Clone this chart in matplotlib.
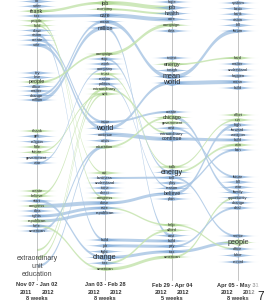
import numpy as np
import matplotlib
matplotlib.use("Agg")
import matplotlib.pyplot as plt

plt.rcParams['font.family'] = ['Liberation Sans', 'DejaVu Sans']

# words per column, grouped; colour code b/g and size code 0/1/2 per word
col1_groups = [["do", "voter", "thank", "tax", "people", "hold", "draw", "vision", "create", "vote"],
               ["try", "lose", "people", "office", "matter", "change", "million"],
               ["thank", "get", "religion", "little", "future", "government", "war"],
               ["create", "believe", "start", "congress", "idea", "rights", "republican", "hate", "american"]]
col1_colors = ["bbgbggbbbb", "bbgbbbb", "gbbggbb", "ggbgbbgbb"]
col1_sizes = ["0010000000", "0010000", "0000000", "000000000"]
col1_span = [(1.5, 45), (73, 100), (131, 163), (191, 231)]

col2_groups = [["job", "economy", "care", "mean", "million"],
               ["campaign", "stop", "work", "company", "trust", "reason", "politics", "extraordinary", "unit"],
               ["issue", "world", "continue", "crisis", "education"],
               ["cut", "business", "understand", "tone", "direct", "congress", "close", "race", "republican"],
               ["build", "job", "fight", "change", "tax", "american"]]
col2_colors = ["ggbbb", "gbbbgbbgg", "bbbbg", "gbbbbgbbb", "bbbbbg"]
col2_sizes = ["10101", "000000000", "02000", "000000000", "000200"]
col2_span = [(3, 28), (54, 94), (122, 147), (173, 213), (240, 269)]

col3_groups = [["hope", "job", "health", "care", "campaign", "idea"],
               ["invest", "energy", "tough", "mean", "world"],
               ["create", "chicago", "government", "cost", "extraordinary", "continue"],
               ["talk", "energy", "tell", "play", "reason", "believe", "plan"],
               ["help", "afford", "cost", "build", "pay", "tax", "american"]]
col3_colors = ["bbbbgb", "bgbbb", "bggbbb", "gbbbbbb", "ggbbbbg"]
col3_sizes = ["011000", "01022", "010001", "0200010", "0000000"]
col3_span = [(2, 31), (58, 83), (112, 139), (167, 199), (225, 257)]

col4_groups = [["system", "basic", "bank", "vision", "kill", "forum"],
               ["hard", "matter", "understand", "happen", "mean", "build"],
               ["effort", "run", "high", "forward", "weapon", "build", "win", "ban"],
               ["future", "bill", "war", "family", "opportunity", "change", "deal"],
               ["senior", "people", "office", "labor", "record"]]
col4_colors = ["bbbbbb", "gbbbbb", "ggbbbbgb", "bbbbbbb", "bgbbb"]
col4_sizes = ["000000", "000000", "00000000", "0000000", "02000"]
col4_span = [(3, 31), (58, 88), (115, 150), (177, 208), (236, 262)]

col1_focus = ["extraordinary", "unit", "education"]

period_labels = ["Nov 07 - Jan 02", "Jan 03 - Feb 28", "Feb 29 - Apr 04", "Apr 05 - May 31"]
period_years = [("2011", "2012"), ("2012", "2012"), ("2012", "2012"), ("2012", "2012")]
period_weeks = ["8 weeks", "8 weeks", "5 weeks", "8 weeks"]

# flows: (source word, target word, weight, colour)
flows_12 = [("vote", "world", 3.5, "b"), ("create", "issue", 2.5, "b"), ("million", "million", 4, "b"),
            ("change", "mean", 2.5, "b"), ("people:2", "campaign", 2, "g"), ("thank", "job", 2.5, "g"),
            ("tax", "care", 3, "b"), ("people", "congress", 2, "g"), ("hold", "cut", 1.5, "g"),
            ("future", "unit", 1.5, "g"), ("war", "company", 1.5, "b"), ("congress", "close", 4, "b"),
            ("rights", "race", 3, "b"), ("republican", "republican", 3, "b"),
            ("believe", "extraordinary", 2, "g"), ("american", "education", 2.5, "b"),
            ("hate", "american", 2, "g"), ("start", "change", 2.5, "b"), ("vision", "build", 2.5, "b")]
flows_focus = [("extraordinary", "extraordinary", 2, "g"), ("unit", "unit", 2, "g"),
               ("education", "education", 2.5, "b")]
flows_23 = [("job", "job", 4, "g"), ("care", "care", 4, "b"), ("economy", "health", 2, "g"),
            ("mean", "mean", 4, "b"), ("million", "cost:2", 3, "b"), ("campaign", "campaign", 3, "g"),
            ("world", "world", 3, "b"), ("continue", "continue", 4, "b"), ("issue", "create", 2, "b"),
            ("education", "chicago", 2, "g"), ("extraordinary", "extraordinary", 2, "g"),
            ("stop", "energy:2", 2, "b"), ("trust", "talk", 1.5, "g"), ("business", "tell", 2, "b"),
            ("build", "build", 3, "b"), ("job:2", "pay", 3, "b"), ("change", "tax", 3, "b"),
            ("american", "american", 3, "g"), ("tax", "afford", 2, "g"), ("close", "believe", 3, "b"),
            ("race", "help", 1.5, "g"), ("politics", "reason", 1.5, "b")]
flows_34 = [("mean", "forum", 4, "b"), ("world", "mean", 4, "b"), ("chicago", "family", 3, "b"),
            ("continue", "build:2", 3, "b"), ("energy:2", "win", 2, "g"), ("believe", "high", 3, "b"),
            ("tax", "people", 3, "b"), ("american", "opportunity", 2, "g"), ("cost", "future", 2, "b"),
            ("talk", "run", 1.5, "g"), ("help", "office", 1.5, "g"), ("reason", "ban", 2, "b"),
            ("tell", "senior", 2, "b"), ("pay", "deal", 2, "b"), ("energy", "hard", 1.5, "g")]

col_x = [37, 105, 172, 238]
glyph_col = {"b": "#7ea9d8", "g": "#a9d58c"}
flow_col = {"b": "#abc7e5", "g": "#c6e4af"}
font_sz = {"0": 2.9, "1": 3.9, "2": 5.2}
glyph_h = {"0": 2.0, "1": 2.6, "2": 3.2}


def layout(groups, colors, sizes, span):
    items = []
    seen = {}
    for g, c, s, (y0, y1) in zip(groups, colors, sizes, span):
        ys = np.linspace(y0, y1, len(g))
        for w, cc, ss, y in zip(g, c, s, ys):
            seen[w] = seen.get(w, 0) + 1
            key = w if seen[w] == 1 else f"{w}:{seen[w]}"
            items.append((key, w, cc, ss, y))
    return items


cols = [layout(col1_groups, col1_colors, col1_sizes, col1_span),
        layout(col2_groups, col2_colors, col2_sizes, col2_span),
        layout(col3_groups, col3_colors, col3_sizes, col3_span),
        layout(col4_groups, col4_colors, col4_sizes, col4_span)]
ypos = [{k: y for k, w, c, s, y in items} for items in cols]
focus_y = dict(zip(col1_focus, np.linspace(258, 274, len(col1_focus))))

fig = plt.figure(figsize=(2.7, 3.03), dpi=100)
ax = fig.add_axes([0, 0, 1, 1])
ax.set_xlim(0, 270)
ax.set_ylim(303, 0)
ax.axis("off")


def band(x1, y1, x2, y2, w, color):
    t = np.linspace(0, 1, 60)
    dx = x2 - x1
    px = (1 - t) ** 3 * x1 + 3 * (1 - t) ** 2 * t * (x1 + dx * 0.5) + 3 * (1 - t) * t ** 2 * (x2 - dx * 0.5) + t ** 3 * x2
    py = (1 - t) ** 3 * y1 + 3 * (1 - t) ** 2 * t * y1 + 3 * (1 - t) * t ** 2 * y2 + t ** 3 * y2
    ax.fill(np.r_[px, px[::-1]], np.r_[py - w / 2, (py + w / 2)[::-1]],
            color=color, alpha=0.85, lw=0, zorder=1)


for i, fl in enumerate([flows_12, flows_23, flows_34]):
    for a, b, w, c in fl:
        band(col_x[i], ypos[i][a], col_x[i + 1], ypos[i + 1][b], w, flow_col[c])
for a, b, w, c in flows_focus:
    band(col_x[0], focus_y[a] - 8, col_x[1], ypos[1][b], w, flow_col[c])

for x in col_x:
    ax.plot([x, x], [0, 280], color="#999999", lw=0.4, zorder=2)

tt = np.linspace(-1, 1, 41)
for x, items in zip(col_x, cols):
    for key, w, c, s, y in items:
        half = glyph_h[s] * (1 - np.abs(tt)) ** 2
        gx = x + tt * 21
        ax.fill(np.r_[gx, gx[::-1]], np.r_[y - half, (y + half)[::-1]],
                color=glyph_col[c], alpha=0.7, lw=0, zorder=3)
        ax.text(x, y, w, ha="center", va="center", fontsize=font_sz[s],
                color="#2a2a2a", zorder=4)

for w, y in focus_y.items():
    ax.text(col_x[0], y, w, ha="center", va="center", fontsize=5.0, color="#444444", zorder=4)

for x, lab, (ya, yb), wk in zip(col_x, period_labels, period_years, period_weeks):
    ax.text(x, 285, lab, ha="center", va="center", fontsize=4.1, fontweight="bold", color="#333333", zorder=4)
    ax.text(x - 11, 292, ya, ha="center", va="center", fontsize=4.1, fontweight="bold", color="#333333", zorder=4)
    ax.text(x + 11, 292, yb, ha="center", va="center", fontsize=4.1, fontweight="bold", color="#333333", zorder=4)
    ax.text(x, 299, wk, ha="center", va="center", fontsize=4.1, fontweight="bold", color="#333333", zorder=4)

# fade out the right edge
grad = np.ones((2, 100, 4))
grad[..., 3] = np.clip(np.linspace(0, 1.4, 100), 0, 1)
ax.imshow(grad, extent=[244, 270, 303, 0], aspect="auto", zorder=5)
ax.set_xlim(0, 270)
ax.set_ylim(303, 0)

ax.text(261, 297, "7", ha="center", va="center", fontsize=8.5, color="#222222", zorder=6)

fig.savefig("out.png", dpi=100)
